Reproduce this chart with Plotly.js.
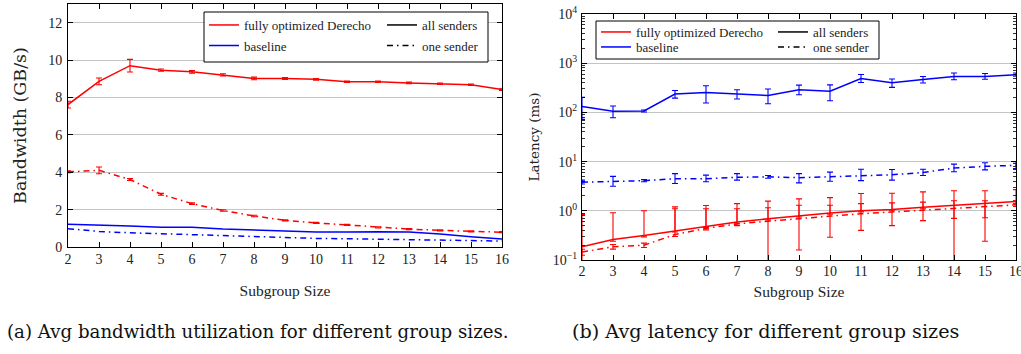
<!DOCTYPE html>
<html>
<head>
<meta charset="utf-8">
<script src="https://cdn.plot.ly/plotly-3.0.1.min.js"></script>
<style>html,body{margin:0;padding:0;background:#fff;}#chart{width:1021px;height:354px;}</style>
</head>
<body>
<div id="chart"></div>
<script>
// ---------- data ----------
const groupSizes = [2,3,4,5,6,7,8,9,10,11,12,13,14,15,16];

// (a) bandwidth, GB/s
const bwOptAll     = [7.62, 8.86, 9.70, 9.46, 9.37, 9.21, 9.02, 9.02, 8.97, 8.84, 8.84, 8.78, 8.73, 8.68, 8.42];
const bwOptAllErr  = [0.18, 0.18, 0.34, 0.06, 0.07, 0.06, 0.07, 0.05, 0.04, 0.04, 0.04, 0.04, 0.04, 0.04, 0.05];
const bwOptOne     = [4.02, 4.10, 3.61, 2.82, 2.32, 1.95, 1.66, 1.43, 1.29, 1.18, 1.05, 0.96, 0.89, 0.84, 0.79];
const bwOptOneErr  = [0.05, 0.18, 0.05, 0.05, 0.04, 0.04, 0.04, 0.03, 0.03, 0.03, 0.03, 0.03, 0.03, 0.03, 0.03];
const bwBaseAll    = [1.22, 1.15, 1.12, 1.06, 1.05, 0.96, 0.90, 0.83, 0.80, 0.80, 0.82, 0.80, 0.70, 0.55, 0.43];
const bwBaseOne    = [0.98, 0.83, 0.76, 0.71, 0.66, 0.59, 0.55, 0.50, 0.46, 0.44, 0.41, 0.39, 0.37, 0.36, 0.32];

// (b) latency, ms
const latBaseAll      = [132, 105, 107, 236, 255, 236, 221, 288, 270, 490, 400, 468, 537, 537, 582];
const latBaseAllPlus  = [70, 30, 5, 43, 92, 52, 77, 71, 93, 99, 76, 69, 93, 80, 50];
const latBaseAllMinus = [60, 27, 5, 41, 100, 49, 71, 59, 97, 85, 78, 71, 77, 65, 40];
const latBaseOne      = [3.8, 3.9, 4.1, 4.5, 4.5, 4.8, 4.9, 4.7, 4.9, 5.2, 5.4, 6.0, 7.4, 8.0, 8.4];
const latBaseOnePlus  = [0.4, 1.1, 0.2, 1.2, 0.8, 0.9, 0.3, 1.0, 1.2, 1.8, 1.5, 1.0, 1.5, 1.5, 1.5];
const latBaseOneMinus = [0.3, 0.75, 0.2, 0.9, 0.6, 0.6, 0.3, 1.0, 0.9, 1.1, 1.2, 0.8, 1.2, 1.2, 1.2];
const latOptAll       = [0.186, 0.26, 0.315, 0.39, 0.48, 0.59, 0.69, 0.80, 0.90, 1.00, 1.06, 1.18, 1.28, 1.39, 1.55];
const latOptAllPlus   = [0.65, 0.65, 0.69, 0.81, 0.80, 0.81, 0.88, 0.95, 0.95, 1.25, 1.22, 1.25, 1.27, 1.16, 1.15];
const latOptAllMinus  = [0.09, 0.02, 0.02, 0.02, 0.02, 0.03, 0.04, 0.05, 0.05, 0.05, 0.06, 0.08, 1.23, 1.15, 0.15];
const latOptOne       = [0.145, 0.186, 0.20, 0.33, 0.44, 0.54, 0.615, 0.70, 0.78, 0.87, 0.94, 1.03, 1.11, 1.20, 1.32];
const latOptOnePlus   = [0.02, 0.02, 0.02, 0.77, 0.66, 0.56, 0.54, 0.60, 0.52, 0.53, 0.51, 0.47, 0.49, 0.40, 0.30];
const latOptOneMinus  = [0.02, 0.02, 0.02, 0.03, 0.03, 0.04, 0.58, 0.54, 0.49, 0.47, 0.44, 0.40, 0.41, 0.48, 0.10];

const bwTicks = [0, 2, 4, 6, 8, 10, 12];
const latTickVals = [0.1, 1, 10, 100, 1000, 10000];
const latTickText = ['10<sup>\u22121</sup>', '10<sup>0</sup>', '10<sup>1</sup>', '10<sup>2</sup>', '10<sup>3</sup>', '10<sup>4</sup>'];

const seriesNames = ['fully optimized Derecho', 'baseline', 'all senders', 'one sender'];
const captionA = '(a) Avg bandwidth utilization for different group sizes.';
const captionB = '(b) Avg latency for different group sizes';

// ---------- styles ----------
const RED = '#ff0000', BLUE = '#0000ff', BLACK = '#000000';
const DASHDOT = '6px,4px,1.5px,4px';
const FONT = 'Liberation Serif';
const WIDEFONT = 'DejaVu Serif';

function line(x, y, color, dash, xa, ya, err) {
  const t = {x: x, y: y, type: 'scatter', mode: 'lines', xaxis: xa, yaxis: ya,
    line: {color: color, width: 1.5, dash: dash}, showlegend: false, hoverinfo: 'skip'};
  if (err) t.error_y = Object.assign({type: 'data', color: color, thickness: 1.1, width: 3}, err);
  return t;
}
function legendEntry(name, color, dash, xa, ya, lg) {
  return {x: [null], y: [null], type: 'scatter', mode: 'lines', name: name, xaxis: xa, yaxis: ya,
    legend: lg, line: {color: color, width: 1.5, dash: dash}, showlegend: true};
}

const legendColors = [RED, BLUE, BLACK, BLACK];
const legendDashes = ['solid', 'solid', 'solid', DASHDOT];

const traces = [
  line(groupSizes, bwOptAll, RED, 'solid', 'x', 'y', {array: bwOptAllErr}),
  line(groupSizes, bwOptOne, RED, DASHDOT, 'x', 'y', {array: bwOptOneErr}),
  line(groupSizes, bwBaseAll, BLUE, 'solid', 'x', 'y'),
  line(groupSizes, bwBaseOne, BLUE, DASHDOT, 'x', 'y'),
  line(groupSizes, latBaseAll, BLUE, 'solid', 'x2', 'y2', {array: latBaseAllPlus, arrayminus: latBaseAllMinus}),
  line(groupSizes, latBaseOne, BLUE, DASHDOT, 'x2', 'y2', {array: latBaseOnePlus, arrayminus: latBaseOneMinus}),
  line(groupSizes, latOptAll, RED, 'solid', 'x2', 'y2', {array: latOptAllPlus, arrayminus: latOptAllMinus}),
  line(groupSizes, latOptOne, RED, DASHDOT, 'x2', 'y2', {array: latOptOnePlus, arrayminus: latOptOneMinus})
];
// legend entries: legends 1-4 for chart (a), 5-8 for chart (b)
for (let k = 0; k < 4; k++) {
  traces.push(legendEntry(seriesNames[k], legendColors[k], legendDashes[k], 'x', 'y', k === 0 ? 'legend' : 'legend' + (k + 1)));
}
for (let k = 0; k < 4; k++) {
  traces.push(legendEntry(seriesNames[k], legendColors[k], legendDashes[k], 'x2', 'y2', 'legend' + (k + 5)));
}

const W = 1021, H = 354;
const px = v => v / W, py = v => 1 - v / H;

const axBase = {showline: true, linecolor: '#000', linewidth: 1, mirror: 'ticks', ticks: 'inside',
  ticklen: 5, tickcolor: '#000', tickwidth: 1, zeroline: false, ticklabeloverflow: 'allow',
  tickfont: {family: FONT, size: 14, color: '#222'}};

function lg(xp, yp, size) {
  return {orientation: 'v', x: px(xp), y: py(yp), xanchor: 'left', yanchor: 'middle',
    bgcolor: 'rgba(0,0,0,0)', borderwidth: 0, font: {family: FONT, size: size, color: '#222'}, itemwidth: 30};
}

const layout = {
  width: W, height: H, margin: {l: 0, r: 0, t: 0, b: 0},
  paper_bgcolor: '#fff', plot_bgcolor: '#fff',
  font: {family: FONT, color: '#222'},
  xaxis: Object.assign({}, axBase, {domain: [px(68), px(502)], range: [2, 16], tickvals: groupSizes,
    showgrid: false, anchor: 'y', ticklabelstandoff: -1,
    title: {text: 'Subgroup Size', font: {family: FONT, size: 15.5}, standoff: 19}}),
  yaxis: Object.assign({}, axBase, {domain: [py(247), py(4)], range: [0, 13], tickvals: bwTicks,
    showgrid: true, gridcolor: '#c4c4c4', gridwidth: 1, anchor: 'x', ticklabelstandoff: 2,
    title: {text: 'Bandwidth (GB/s)', font: {family: WIDEFONT, size: 17.5}, standoff: 17}}),
  xaxis2: Object.assign({}, axBase, {domain: [px(582), px(1016)], range: [2, 16], tickvals: groupSizes,
    showgrid: false, anchor: 'y2', ticklabelstandoff: -2,
    title: {text: 'Subgroup Size', font: {family: FONT, size: 15.5}, standoff: 8}}),
  yaxis2: Object.assign({}, axBase, {type: 'log', domain: [py(260), py(14)], range: [-1, 4],
    tickmode: 'array', tickvals: latTickVals, ticktext: latTickText,
    showgrid: true, gridcolor: '#c4c4c4', gridwidth: 1, anchor: 'x2', ticklabelstandoff: 1,
    minor: {dtick: 'D1', ticks: 'inside', ticklen: 3, tickcolor: '#000', tickwidth: 0.8, showgrid: false},
    title: {text: 'Latency (ms)', font: {family: WIDEFONT, size: 13.5}, standoff: 10}}),
  legend:  lg(204, 25, 13),
  legend2: lg(204, 45.5, 13),
  legend3: lg(382, 25, 13),
  legend4: lg(382, 45.5, 13),
  legend5: lg(596, 32, 13),
  legend6: lg(596, 47, 13),
  legend7: lg(773, 32, 13),
  legend8: lg(773, 47, 13),
  shapes: [
    {type: 'rect', xref: 'paper', yref: 'paper', x0: px(204), x1: px(488), y0: py(12), y1: py(62),
      line: {color: '#000', width: 1}, fillcolor: '#fff', layer: 'above'},
    {type: 'rect', xref: 'paper', yref: 'paper', x0: px(596), x1: px(879), y0: py(21), y1: py(59),
      line: {color: '#000', width: 1}, fillcolor: '#fff', layer: 'above'}
  ],
  annotations: [
    {text: captionA, xref: 'paper', yref: 'paper', x: px(258), y: py(331), xanchor: 'center', yanchor: 'middle',
      showarrow: false, font: {family: WIDEFONT, size: 18.2, color: '#111'}},
    {text: captionB, xref: 'paper', yref: 'paper', x: px(765), y: py(331), xanchor: 'center', yanchor: 'middle',
      showarrow: false, font: {family: WIDEFONT, size: 19.2, color: '#111'}}
  ]
};

Plotly.newPlot('chart', traces, layout, {staticPlot: true, displayModeBar: false});
</script>
</body>
</html>
